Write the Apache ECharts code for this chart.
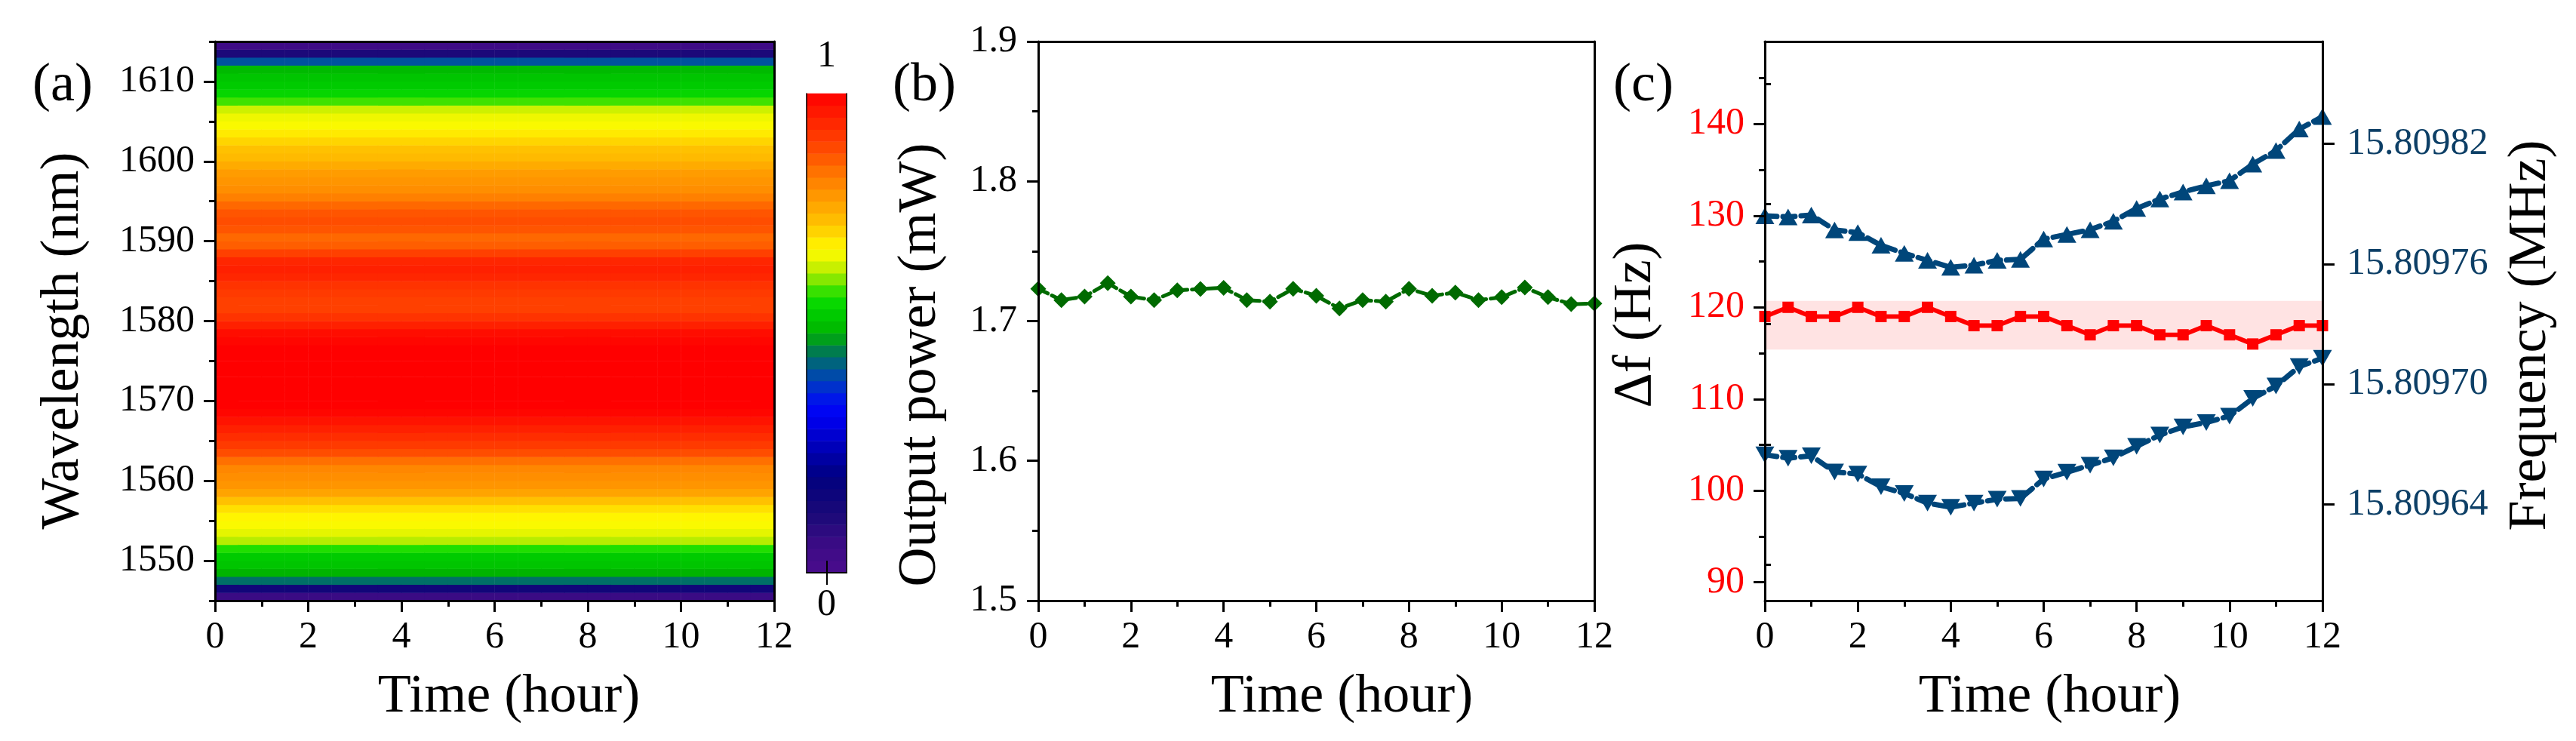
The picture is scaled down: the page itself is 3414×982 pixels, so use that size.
<!DOCTYPE html>
<html>
<head>
<meta charset="utf-8">
<title>Laser stability</title>
<script src="https://cdn.jsdelivr.net/npm/echarts@6.0.0/dist/echarts.min.js"></script>
<style>
  html, body { margin: 0; padding: 0; background: #fff; }
  #chart { width: 3414px; height: 982px; }
</style>
</head>
<body>
<div id="chart"></div>
<script>
// ---- data ----
var hours = [0, 0.5, 1, 1.5, 2, 2.5, 3, 3.5, 4, 4.5, 5, 5.5, 6, 6.5, 7, 7.5, 8, 8.5, 9, 9.5, 10, 10.5, 11, 11.5, 12];

// (b) output power, mW
var powerMW = [1.7231, 1.7150, 1.7175, 1.7271, 1.7175, 1.7150, 1.7220, 1.7229, 1.7238, 1.7150, 1.7139, 1.7231, 1.7181,
  1.7090, 1.7150, 1.7139, 1.7231, 1.7181, 1.7204, 1.7150, 1.7171, 1.7240, 1.7171, 1.7121, 1.7126];

// (c) linewidth, Hz (left axis)
var deltaFHz = [119, 120, 119, 119, 120, 119, 119, 120, 119, 118, 118, 119, 119, 118, 117, 118, 118, 117, 117, 118, 117, 116, 117, 118, 118];
var deltaFBand = [115.4, 120.7];

// (c) frequency, MHz (right axis)
var freqUpperMHz = [15.8097840, 15.8097835, 15.8097844, 15.8097770, 15.8097756, 15.8097693, 15.8097653, 15.8097618, 15.8097583,
  15.8097594, 15.8097618, 15.8097623, 15.8097724, 15.8097747, 15.8097771, 15.8097813, 15.8097877, 15.8097924, 15.8097959,
  15.8097990, 15.8098015, 15.8098098, 15.8098166, 15.8098273, 15.8098335];
var freqLowerMHz = [15.8096648, 15.8096631, 15.8096643, 15.8096562, 15.8096552, 15.8096489, 15.8096455, 15.8096407, 15.8096386,
  15.8096407, 15.8096426, 15.8096430, 15.8096527, 15.8096561, 15.8096596, 15.8096633, 15.8096690, 15.8096746, 15.8096787,
  15.8096809, 15.8096841, 15.8096929, 15.8096991, 15.8097088, 15.8097130];

// (a) spectrum map: time bins x wavelength rows (1 nm)
var timeBins = ['0.25', '0.75', '1.25', '1.75', '2.25', '2.75', '3.25', '3.75', '4.25', '4.75', '5.25', '5.75',
  '6.25', '6.75', '7.25', '7.75', '8.25', '8.75', '9.25', '9.75', '10.25', '10.75', '11.25', '11.75'];
var wavelengthNm = [1545.5, 1546.5, 1547.5, 1548.5, 1549.5, 1550.5, 1551.5, 1552.5, 1553.5, 1554.5,
  1555.5, 1556.5, 1557.5, 1558.5, 1559.5, 1560.5, 1561.5, 1562.5, 1563.5, 1564.5,
  1565.5, 1566.5, 1567.5, 1568.5, 1569.5, 1570.5, 1571.5, 1572.5, 1573.5, 1574.5,
  1575.5, 1576.5, 1577.5, 1578.5, 1579.5, 1580.5, 1581.5, 1582.5, 1583.5, 1584.5,
  1585.5, 1586.5, 1587.5, 1588.5, 1589.5, 1590.5, 1591.5, 1592.5, 1593.5, 1594.5,
  1595.5, 1596.5, 1597.5, 1598.5, 1599.5, 1600.5, 1601.5, 1602.5, 1603.5, 1604.5,
  1605.5, 1606.5, 1607.5, 1608.5, 1609.5, 1610.5, 1611.5, 1612.5, 1613.5, 1614.5];
var spectrumNorm = [0.06, 0.15, 0.45, 0.50, 0.53, 0.54, 0.58, 0.63, 0.65, 0.67,
  0.68, 0.70, 0.73, 0.77, 0.79, 0.80, 0.81, 0.84, 0.88, 0.91,
  0.93, 0.95, 0.97, 0.99, 1.00, 1.00, 1.00, 1.00, 1.00, 1.00,
  1.00, 1.00, 0.99, 0.98, 0.95, 0.92, 0.90, 0.90, 0.91, 0.92,
  0.94, 0.95, 0.94, 0.90, 0.86, 0.85, 0.87, 0.88, 0.87, 0.85,
  0.82, 0.80, 0.79, 0.78, 0.76, 0.74, 0.73, 0.71, 0.69, 0.67,
  0.66, 0.64, 0.59, 0.56, 0.54, 0.53, 0.51, 0.42, 0.12, 0.05];
var colorbarLevels = [0.0125, 0.0375, 0.0625, 0.0875, 0.1125, 0.1375, 0.1625, 0.1875, 0.2125, 0.2375,
  0.2625, 0.2875, 0.3125, 0.3375, 0.3625, 0.3875, 0.4125, 0.4375, 0.4625, 0.4875,
  0.5125, 0.5375, 0.5625, 0.5875, 0.6125, 0.6375, 0.6625, 0.6875, 0.7125, 0.7375,
  0.7625, 0.7875, 0.8125, 0.8375, 0.8625, 0.8875, 0.9125, 0.9375, 0.9625, 0.9875];

// tick values
var wlTicks = [1550, 1560, 1570, 1580, 1590, 1600, 1610];
var wlMinorTicks = [1545, 1555, 1565, 1575, 1585, 1595, 1605, 1615];
var dfTicks = [90, 100, 110, 120, 130, 140];
var dfMinorTicks = [95, 105, 115, 125, 135, 145];
var freqTicks = [15.80964, 15.80970, 15.80976, 15.80982];
var freqMinorTicks = [15.80961, 15.80967, 15.80973, 15.80979, 15.80985];

// origin-like rainbow map, 0 .. 1 in steps of 0.025
var rainbow = ['#4a0c8c', '#440c89', '#3e0b86', '#330b82', '#240a7b', '#1a0978', '#110679', '#09037c', '#000080',
  '#000097', '#0000ad', '#0000c4', '#0000db', '#0000f2', '#000af4', '#0024dc', '#003ebb', '#005795', '#006f67',
  '#008935', '#00b400', '#00c200', '#00d100', '#10de00', '#60e400', '#abeb00', '#e5f500', '#fffa00', '#ffe000',
  '#ffc500', '#ffb200', '#ffa000', '#ff8e00', '#ff7c00', '#ff6800', '#ff5000', '#ff4000', '#ff3000', '#ff2000',
  '#ff1000', '#ff0000'];

var FONT = 'Liberation Serif';
var BLUE = '#00467a';
var blackLine = { color: '#000', width: 3 };

var heatData = [];
for (var i = 0; i < timeBins.length; i++) {
  for (var j = 0; j < wavelengthNm.length; j++) {
    heatData.push([i, j, spectrumNorm[j]]);
  }
}
var colorbarData = colorbarLevels.map(function (v, k) { return [0, k, v]; });

function pairs(ys) {
  return hours.map(function (h, k) { return [h, ys[k]]; });
}

// tick labels go through rich text so the serif font sticks
function tickLabel(color, margin, fmt, custom) {
  var o = {
    fontSize: 50, color: color, fontFamily: FONT, margin: margin,
    formatter: function (v) { return '{t|' + (fmt ? fmt(v) : String(v)) + '}'; },
    rich: { t: { fontSize: 50, color: color, fontFamily: FONT } }
  };
  if (custom) o.customValues = custom;
  return o;
}

// plain line on top / right edge of a box
function edgeAxis(gridIndex, position) {
  return {
    gridIndex: gridIndex, type: 'value', position: position, min: 0, max: 1, z: 10,
    axisLine: { show: true, onZero: false, lineStyle: blackLine },
    axisTick: { show: false }, axisLabel: { show: false }, splitLine: { show: false }
  };
}

function timeAxis(gridIndex, shift) {
  return {
    gridIndex: gridIndex, type: 'value', position: 'bottom', min: 0, max: 12, interval: 2, z: 10,
    name: 'Time (hour)', nameLocation: 'middle', nameGap: 92, nameMoveOverlap: false,
    nameTextStyle: { fontSize: 72, color: '#000', fontFamily: FONT, padding: [0, 0, 0, 2 * shift] },
    axisLine: { show: true, onZero: false, lineStyle: blackLine },
    axisTick: { show: true, length: 15, lineStyle: blackLine },
    minorTick: { show: true, splitNumber: 2, length: 8, lineStyle: blackLine },
    axisLabel: tickLabel('#000', 24),
    splitLine: { show: false }, minorSplitLine: { show: false }
  };
}

// extra axis that only draws short ticks at given values
function minorAxis(gridIndex, position, min, max, values) {
  return {
    gridIndex: gridIndex, type: 'value', position: position, min: min, max: max, z: 10,
    axisLine: { show: false },
    axisTick: { show: true, length: 8, customValues: values, lineStyle: blackLine },
    axisLabel: { show: false }, splitLine: { show: false }
  };
}

var option = {
  animation: false,
  backgroundColor: '#fff',
  textStyle: { fontFamily: FONT },
  title: [
    { text: '(a)', left: 43, top: 78, padding: 0, textStyle: { fontSize: 72, fontWeight: 'normal', fontFamily: FONT, color: '#000' } },
    { text: '(b)', left: 1183, top: 78, padding: 0, textStyle: { fontSize: 72, fontWeight: 'normal', fontFamily: FONT, color: '#000' } },
    { text: '(c)', left: 2138, top: 78, padding: 0, textStyle: { fontSize: 72, fontWeight: 'normal', fontFamily: FONT, color: '#000' } }
  ],
  grid: [
    { left: 285, top: 55, width: 741, height: 741, outerBoundsMode: 'none' },
    { left: 1376, top: 55, width: 737, height: 741, outerBoundsMode: 'none' },
    { left: 2339, top: 55, width: 739, height: 741, outerBoundsMode: 'none' },
    { left: 1069, top: 124, width: 53, height: 635, outerBoundsMode: 'none' }
  ],
  visualMap: {
    type: 'continuous', show: false, min: 0, max: 1, seriesIndex: [0, 1],
    inRange: { color: rainbow }
  },
  xAxis: [
    { gridIndex: 0, type: 'category', data: timeBins, show: false },
    timeAxis(0, 19),
    edgeAxis(0, 'top'),
    timeAxis(1, 34),
    edgeAxis(1, 'top'),
    timeAxis(2, 8),
    edgeAxis(2, 'top'),
    {
      gridIndex: 3, type: 'category', data: ['1'], position: 'top', z: 10,
      axisLine: { show: true, lineStyle: { color: '#000', width: 1.5 } },
      axisTick: { show: true, alignWithLabel: true, length: 16, lineStyle: { color: '#000', width: 2 } },
      axisLabel: tickLabel('#000', 24),
      splitLine: { show: false }
    },
    {
      gridIndex: 3, type: 'category', data: ['0'], position: 'bottom', z: 10,
      axisLine: { show: true, lineStyle: { color: '#000', width: 1.5 } },
      axisTick: { show: true, alignWithLabel: true, length: 16, lineStyle: { color: '#000', width: 2 } },
      axisLabel: tickLabel('#000', 18),
      splitLine: { show: false }
    }
  ],
  yAxis: [
    { gridIndex: 0, type: 'category', data: wavelengthNm, show: false },
    {
      gridIndex: 0, type: 'value', position: 'left', min: 1545, max: 1615, z: 10,
      name: 'Wavelength (nm)', nameLocation: 'middle', nameGap: 165, nameRotate: 90, nameMoveOverlap: false,
      nameTextStyle: { fontSize: 72, color: '#000', fontFamily: FONT, padding: [0, 52, 0, 0] },
      axisLine: { show: true, onZero: false, lineStyle: blackLine },
      axisTick: { show: true, length: 15, customValues: wlTicks, lineStyle: blackLine },
      axisLabel: tickLabel('#000', 27, null, wlTicks),
      splitLine: { show: false }
    },
    minorAxis(0, 'left', 1545, 1615, wlMinorTicks),
    edgeAxis(0, 'right'),
    {
      gridIndex: 1, type: 'value', position: 'left', min: 1.5, max: 1.9, interval: 0.1, z: 10,
      name: 'Output power (mW)', nameLocation: 'middle', nameGap: 120, nameRotate: 90, nameMoveOverlap: false,
      nameTextStyle: { fontSize: 72, color: '#000', fontFamily: FONT, padding: [0, 116, 0, 0] },
      axisLine: { show: true, onZero: false, lineStyle: blackLine },
      axisTick: { show: true, length: 15, lineStyle: blackLine },
      minorTick: { show: true, splitNumber: 2, length: 8, lineStyle: blackLine },
      axisLabel: tickLabel('#000', 28, function (v) { return v.toFixed(1); }),
      splitLine: { show: false }, minorSplitLine: { show: false }
    },
    edgeAxis(1, 'right'),
    {
      gridIndex: 2, type: 'value', position: 'left', min: 88, max: 149, z: 10,
      name: 'Δf (Hz)', nameLocation: 'middle', nameGap: 135, nameRotate: 90, nameMoveOverlap: false,
      nameTextStyle: { fontSize: 72, color: '#000', fontFamily: FONT, padding: [0, 10, 0, 0] },
      axisLine: { show: true, onZero: false, lineStyle: blackLine },
      axisTick: { show: true, length: 15, customValues: dfTicks, lineStyle: blackLine },
      axisLabel: tickLabel('#ff0000', 27, null, dfTicks),
      splitLine: { show: false }
    },
    minorAxis(2, 'left', 88, 149, dfMinorTicks),
    {
      gridIndex: 2, type: 'value', position: 'right', min: 15.809592, max: 15.809871, z: 10,
      name: 'Frequency (MHz)', nameLocation: 'middle', nameGap: 240, nameRotate: 90, nameMoveOverlap: false,
      nameTextStyle: { fontSize: 72, color: '#000', fontFamily: FONT, padding: [0, 38, 0, 0] },
      axisLine: { show: true, onZero: false, lineStyle: blackLine },
      axisTick: { show: true, length: 16, customValues: freqTicks, lineStyle: blackLine },
      axisLabel: tickLabel('#0d3f66', 32, function (v) { return v.toFixed(5); }, freqTicks),
      splitLine: { show: false }
    },
    minorAxis(2, 'right', 15.809592, 15.809871, freqMinorTicks),
    {
      gridIndex: 3, type: 'category', data: colorbarLevels, position: 'left', z: 10,
      axisLine: { show: true, lineStyle: { color: '#000', width: 1.5 } },
      axisTick: { show: false }, axisLabel: { show: false }, splitLine: { show: false }
    },
    {
      gridIndex: 3, type: 'value', position: 'right', min: 0, max: 1, z: 10,
      axisLine: { show: true, onZero: false, lineStyle: { color: '#000', width: 1.5 } },
      axisTick: { show: false }, axisLabel: { show: false }, splitLine: { show: false }
    }
  ],
  series: [
    { type: 'heatmap', xAxisIndex: 0, yAxisIndex: 0, data: heatData, progressive: 0, itemStyle: { borderWidth: 0 } },
    { type: 'heatmap', xAxisIndex: 7, yAxisIndex: 10, data: colorbarData, progressive: 0, itemStyle: { borderWidth: 0 } },
    {
      type: 'line', xAxisIndex: 3, yAxisIndex: 4, data: pairs(powerMW),
      symbol: 'diamond', symbolSize: 21, z: 5,
      lineStyle: { color: '#006a00', width: 5, type: [14, 6], cap: 'round' },
      itemStyle: { color: '#006a00' }
    },
    {
      type: 'line', xAxisIndex: 5, yAxisIndex: 6, data: pairs(deltaFHz),
      symbol: 'rect', symbolSize: 15, z: 5,
      lineStyle: { color: '#ff0000', width: 6 },
      itemStyle: { color: '#ff0000' },
      markArea: {
        silent: true,
        itemStyle: { color: 'rgba(255, 0, 0, 0.11)' },
        data: [[{ yAxis: deltaFBand[0] }, { yAxis: deltaFBand[1] }]]
      }
    },
    {
      type: 'line', xAxisIndex: 5, yAxisIndex: 8, data: pairs(freqUpperMHz),
      symbol: 'triangle', symbolSize: [25, 22], z: 5,
      lineStyle: { color: BLUE, width: 7, type: [16, 8], cap: 'round' },
      itemStyle: { color: BLUE }
    },
    {
      type: 'line', xAxisIndex: 5, yAxisIndex: 8, data: pairs(freqLowerMHz),
      symbol: 'triangle', symbolRotate: 180, symbolSize: [25, 22], z: 5,
      lineStyle: { color: BLUE, width: 7, type: [16, 8], cap: 'round' },
      itemStyle: { color: BLUE }
    }
  ]
};

var myChart = echarts.init(document.getElementById('chart'), null, { renderer: 'canvas' });
myChart.setOption(option);
window.addEventListener('resize', myChart.resize);
</script>
</body>
</html>
